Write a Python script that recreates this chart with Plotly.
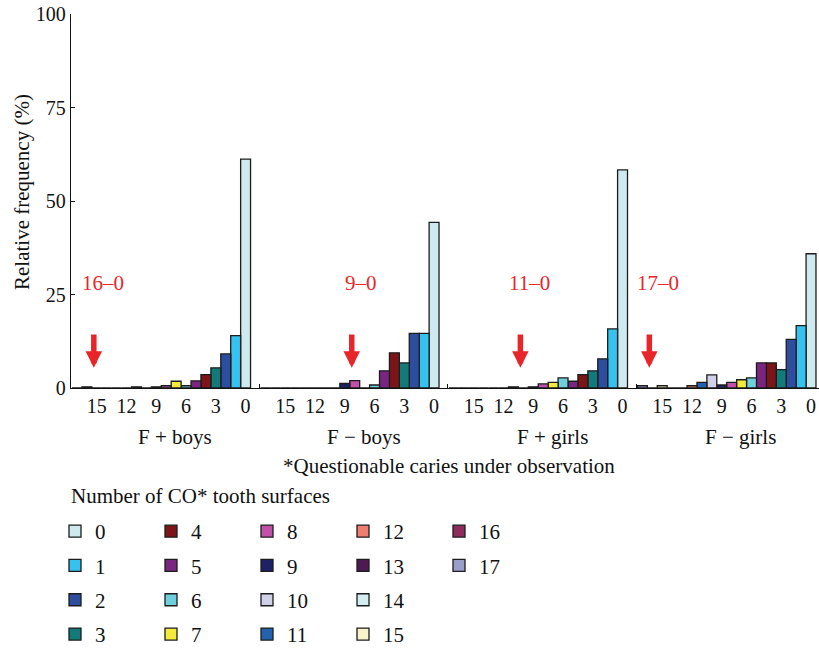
import plotly.graph_objects as go

# ---------------- data ----------------
groups = ["F + boys", "F − boys", "F + girls", "F − girls"]
surfaces = list(range(18))  # number of CO* tooth surfaces 0..17
surface_colors = [
    "#cfeaef", "#35c2ee", "#2d4e9f", "#127a78", "#7b1518", "#7a2580",
    "#6fcfdc", "#f3ea3c", "#c050a8", "#1e2165", "#d0d0e8", "#2462ad",
    "#f07d72", "#4e1a52", "#d3edf0", "#f8f3c8", "#8e2c5e", "#9b9dcc",
]
f_plus_boys = [61.2, 14.0, 9.1, 5.4, 3.6, 1.9, 0.6, 1.8, 0.6, 0.3, 0, 0.3, 0, 0, 0, 0, 0.3, 0]
f_minus_boys = [44.3, 14.6, 14.6, 6.7, 9.4, 4.6, 0.8, 0, 1.95, 1.2, 0, 0, 0, 0, 0, 0, 0, 0]
f_plus_girls = [58.3, 15.8, 7.8, 4.6, 3.6, 1.8, 2.7, 1.5, 1.1, 0.3, 0, 0.3, 0, 0, 0, 0, 0, 0]
f_minus_girls = [35.9, 16.7, 13.0, 4.9, 6.7, 6.7, 2.7, 2.2, 1.5, 0.8, 3.5, 1.5, 0.6, 0, 0, 0.6, 0, 0.6]
group_values = [f_plus_boys, f_minus_boys, f_plus_girls, f_minus_girls]

range_labels = ["16–0", "9–0", "11–0", "17–0"]
range_max = [16, 9, 11, 17]
tick_surfaces = [15, 12, 9, 6, 3, 0]
y_ticks = [0, 25, 50, 75, 100]

FONT = "Liberation Serif"
RED = "#e8262a"
SLOTS = 19
W, H = 819, 648
PL, PT, PB = 71, 14, 388  # plot area left / top / bottom in pixels


def xpos(g, v):
    return 18 + SLOTS * g - v


def py(pix):
    return (PB - pix) / (PB - PT)


def px(pix):
    return (pix - PL) / (W - PL)


fig = go.Figure()
for v in surfaces:
    col = v // 4
    fig.add_trace(go.Bar(
        x=[xpos(g, v) for g in range(len(groups))],
        y=[group_values[g][v] for g in range(len(groups))],
        width=1,
        name=str(v),
        legendgroup=str(v),
        legend="legend" if col == 0 else f"legend{col + 1}",
        marker=dict(color=surface_colors[v], line=dict(color="#1c1c1c", width=1.3)),
    ))

tickvals = [xpos(g, t) for g in range(len(groups)) for t in tick_surfaces]
ticktext = [str(t) for g in range(len(groups)) for t in tick_surfaces]
boundaries = [xpos(g, 0) + 1.4 for g in range(len(groups) - 1)]

# invisible trace to activate xaxis2 (group boundary ticks)
fig.add_trace(go.Scatter(x=[boundaries[0]], y=[0], xaxis="x2", mode="markers",
                         marker=dict(opacity=0), showlegend=False, hoverinfo="skip"))

annotations = []
for g, name in enumerate(groups):
    annotations.append(dict(x=xpos(g, 7.1), y=py(437), xref="x", yref="paper",
                            xanchor="center", yanchor="middle",
                            text=name, showarrow=False,
                            font=dict(family=FONT, size=21, color="#111")))
    ax = xpos(g, range_max[g]) + 0.7
    annotations.append(dict(x=ax, y=5.4, ax=ax, ay=14.7, xref="x", yref="y",
                            axref="x", ayref="y", text="", showarrow=True,
                            arrowhead=2, arrowwidth=5.5, arrowsize=0.6,
                            arrowcolor=RED, standoff=0, startstandoff=0))
    annotations.append(dict(x=ax, y=28.1, xref="x", yref="y", xshift=9,
                            xanchor="center", yanchor="middle",
                            text=range_labels[g], showarrow=False,
                            font=dict(family=FONT, size=21, color=RED)))

annotations.append(dict(x=px(449), y=py(466), xref="paper", yref="paper",
                        xanchor="center", yanchor="middle",
                        text="*Questionable caries under observation", showarrow=False,
                        font=dict(family=FONT, size=21, color="#111")))
annotations.append(dict(x=px(69), y=py(496), xref="paper", yref="paper",
                        xanchor="left", yanchor="middle",
                        text="Number of CO* tooth surfaces", showarrow=False,
                        font=dict(family=FONT, size=21, color="#111")))
annotations.append(dict(x=px(22), y=py(192), xref="paper", yref="paper",
                        xanchor="center", yanchor="middle", textangle=-90,
                        text="Relative frequency (%)", showarrow=False,
                        font=dict(family=FONT, size=21, color="#111")))

layout_legends = {}
for col in range(5):
    key = "legend" if col == 0 else f"legend{col + 1}"
    layout_legends[key] = dict(
        x=(55 + 96 * col) / W, y=1 - 511 / H, xref="container", yref="container",
        xanchor="left", yanchor="top",
        orientation="v", tracegroupgap=4, bgcolor="rgba(0,0,0,0)",
        font=dict(family=FONT, size=21, color="#111"),
    )

fig.update_layout(
    width=W, height=H,
    margin=dict(l=PL, r=0, t=PT, b=H - PB, autoexpand=False),
    paper_bgcolor="white", plot_bgcolor="white",
    barmode="overlay",
    showlegend=True,
    font=dict(family=FONT, size=20, color="#111"),
    xaxis=dict(range=[0.4, 0.4 + 748 / 9.92], tickvals=tickvals, ticktext=ticktext,
               ticks="", showline=True, linecolor="#111", linewidth=1.3,
               showgrid=False, zeroline=False, tickfont=dict(family=FONT, size=20),
               automargin=False, fixedrange=True),
    xaxis2=dict(overlaying="x", matches="x", side="bottom", tickvals=boundaries,
                ticks="inside", ticklen=4, tickwidth=1.3, tickcolor="#111",
                showticklabels=False, showgrid=False, zeroline=False, showline=False,
                automargin=False),
    yaxis=dict(range=[0, 100], tickvals=y_ticks, ticks="inside", ticklen=4,
               tickwidth=1.3, tickcolor="#111", showline=True, linecolor="#111",
               linewidth=1.3, showgrid=False, zeroline=False, automargin=False,
               tickfont=dict(family=FONT, size=20)),
    annotations=annotations,
    **layout_legends,
)

fig.write_html("out.html", config={"displayModeBar": False},
               post_script="document.body.style.margin='0';")
